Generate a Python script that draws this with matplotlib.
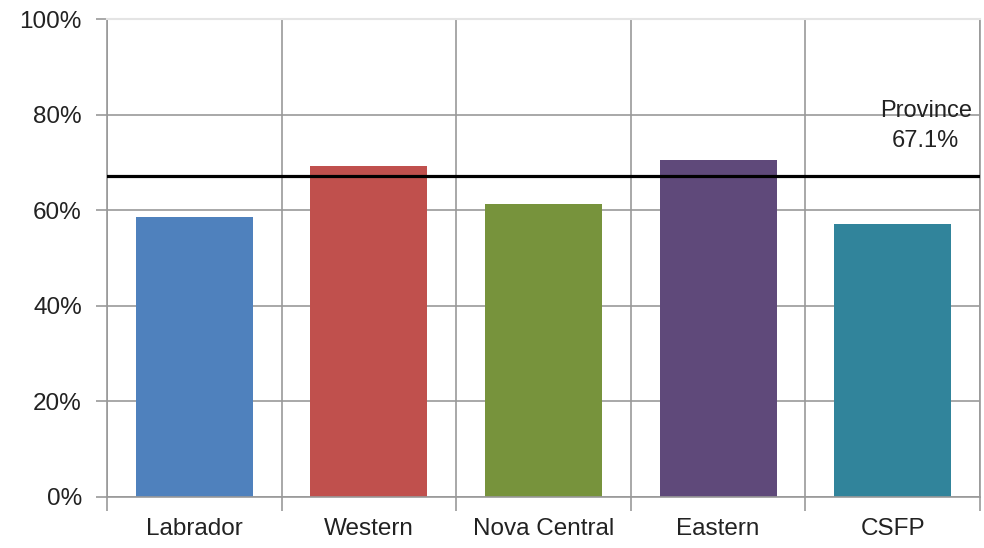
import matplotlib.pyplot as plt
from matplotlib.ticker import FixedLocator, PercentFormatter

plt.rcParams['font.family'] = ['Liberation Sans', 'DejaVu Sans']

regions = ["Labrador", "Western", "Nova Central", "Eastern", "CSFP"]
rates = [58.6, 69.3, 61.4, 70.4, 57.1]
bar_colors = ["#4F81BD", "#C0504D", "#77933C", "#5F497A", "#31849B"]
province_rate = 67.1
province_label = "Province\n67.1%"

fig = plt.figure(figsize=(9.84, 5.48), dpi=100)
ax = fig.add_axes([0.1087, 0.0931, 0.8872, 0.8722])

x = range(len(regions))
ax.bar(x, rates, width=0.67, color=bar_colors, zorder=2)

# province average line
ax.axhline(province_rate, color="black", linewidth=2.3, zorder=3)
ax.text(len(regions) - 0.81, province_rate + 5.0, province_label, ha="center",
        va="bottom", fontsize=17, color="#222222", linespacing=1.5, zorder=4)

ax.set_xlim(-0.5, len(regions) - 0.5)
ax.set_ylim(0, 100)
ax.set_xticks(list(x))
ax.set_xticklabels(regions, fontsize=17.5, color="#222222")
ax.xaxis.set_minor_locator(FixedLocator([i - 0.5 for i in range(len(regions) + 1)]))
ax.tick_params(axis="x", which="major", length=0, pad=15)
ax.tick_params(axis="x", which="minor", length=10, width=1.2, color="#999999")

ax.set_yticks(range(0, 101, 20))
ax.yaxis.set_major_formatter(PercentFormatter(decimals=0))
ax.tick_params(axis="y", length=8, width=1.2, color="#999999", labelsize=17.5,
               labelcolor="#222222", pad=10)

ax.grid(axis="y", which="major", color="#999999", linewidth=1.2, zorder=0)
ax.grid(axis="x", which="minor", color="#999999", linewidth=1.2, zorder=0)

for side in ["left", "bottom", "right"]:
    ax.spines[side].set_color("#999999")
    ax.spines[side].set_linewidth(1.2)
ax.spines["top"].set_color("#e4e4e4")
ax.spines["top"].set_linewidth(1.5)

fig.savefig("out.png", dpi=100)
